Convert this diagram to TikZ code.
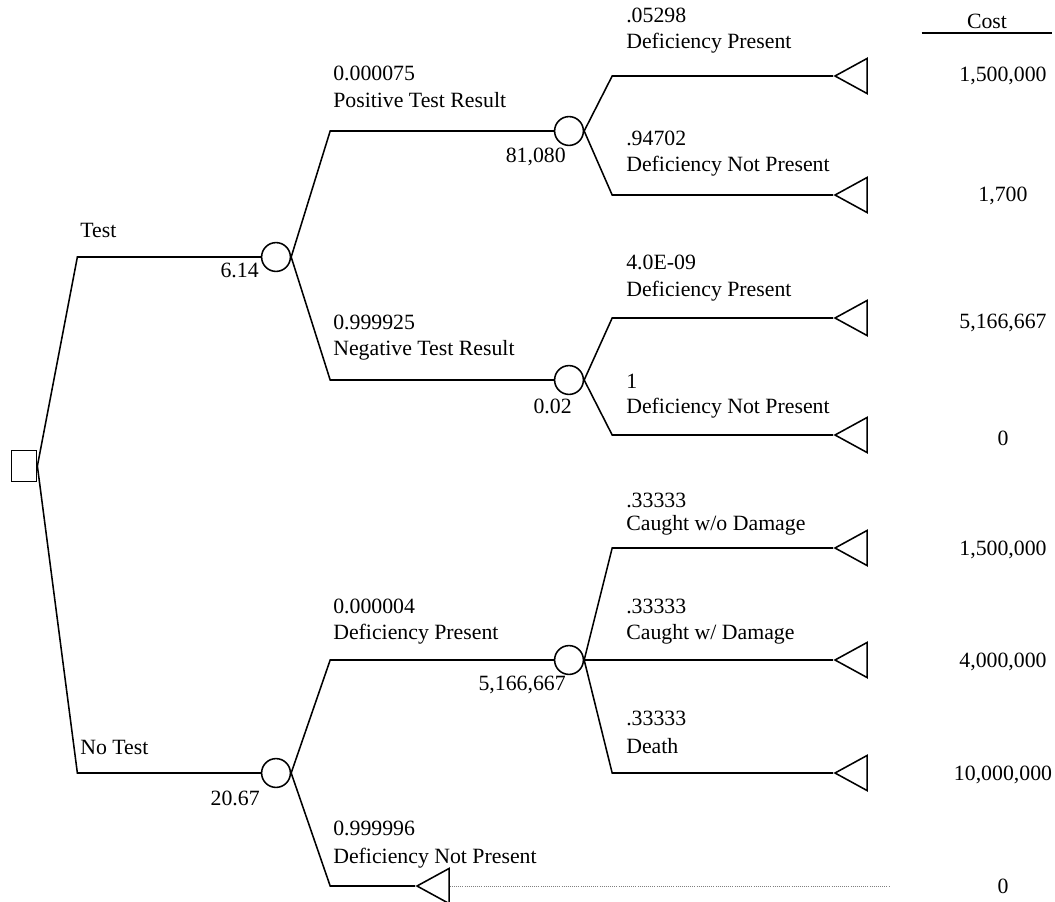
\documentclass[tikz,border=0pt]{standalone}
\usepackage{fontspec}
\setmainfont{Liberation Serif}
\usetikzlibrary{shapes.geometric, positioning}

\begin{document}
\begin{tikzpicture}[x=0.025cm, y=-0.025cm,
  decision/.style={draw, rectangle, line width=1.1pt, minimum width=0.63cm, minimum height=0.77cm, inner sep=0pt},
  chance/.style={draw, circle, line width=1.1pt, minimum size=0.72cm, inner sep=0pt},
  payoff/.style={draw, isosceles triangle, shape border rotate=180,
                 isosceles triangle stretches, line width=1.1pt,
                 minimum width=0.875cm, minimum height=0.8cm, inner sep=0pt, anchor=apex},
  lbl/.style={anchor=west, inner sep=0pt, font=\fontsize{15.5}{18}\selectfont},
  val/.style={anchor=east, inner sep=0pt, font=\fontsize{15.5}{18}\selectfont},
  cost/.style={inner sep=0pt, font=\fontsize{15.5}{18}\selectfont},
  br/.style={line width=1.1pt}
]
  \useasboundingbox (0,0) rectangle (1055,902);

  % decision and chance nodes
  \node[decision] (root) at (24,466) {};
  \node[chance] (test) at (276,257) {};
  \node[chance] (notest) at (276,773) {};
  \node[chance] (pos) at (569,131) {};
  \node[chance] (neg) at (569,380) {};
  \node[chance] (defp) at (569,660) {};

  % end nodes
  \node[payoff] (t1) at (833,76) {};
  \node[payoff] (t2) at (833,195) {};
  \node[payoff] (t3) at (833,318) {};
  \node[payoff] (t4) at (833,435) {};
  \node[payoff] (t5) at (833,548) {};
  \node[payoff] (t6) at (833,660) {};
  \node[payoff] (t7) at (833,773) {};
  \node[payoff] (t8) at (415,886) {};
  \coordinate (dotend) at (890,886);

  % costs
  \node[cost, minimum width=3.25cm, inner ysep=3pt] (hd) at (987,21) {Cost};
  \node[cost] (c1) at (1003,76) {1,500,000};
  \node[cost] (c2) at (1003,196) {1,700};
  \node[cost] (c3) at (1003,323) {5,166,667};
  \node[cost] (c4) at (1003,438) {0};
  \node[cost] (c5) at (1003,550) {1,500,000};
  \node[cost] (c6) at (1003,662) {4,000,000};
  \node[cost] (c7) at (1003,775) {10,000,000};
  \node[cost] (c8) at (1003,886) {0};
  \draw[line width=1.2pt] (hd.south west) -- (hd.south east);

  % branches
  \draw[br] (root.east) -- ++(40,-209) -- (test);
  \draw[br] (root.east) -- ++(40,307) -- (notest);
  \draw[br] (test.east) -- ++(39,-126) -- (pos);
  \draw[br] (test.east) -- ++(39,123) -- (neg);
  \draw[br] (pos.east) -- ++(28,-55) -- (t1);
  \draw[br] (pos.east) -- ++(28,64) -- (t2);
  \draw[br] (neg.east) -- ++(28,-62) -- (t3);
  \draw[br] (neg.east) -- ++(28,55) -- (t4);
  \draw[br] (notest.east) -- ++(39,-113) -- (defp);
  \draw[br] (notest.east) -- ++(39,113) -- (t8);
  \draw[br] (defp.east) -- ++(28,-112) -- (t5);
  \draw[br] (defp) -- (t6);
  \draw[br] (defp.east) -- ++(28,113) -- (t7);
  \draw[densely dotted, gray, line width=0.5pt] (t8.east) -- (dotend);

  % labels
  \node[lbl] (ltest) at (80,230) {Test};
  \node[lbl] (lnotest) at (80,747) {No Test};
  \node[val] (vtest) at (259,270) {6.14};
  \node[val] (vnotest) at (260,798) {20.67};
  \node[lbl] (ppos) at (333,73) {0.000075};
  \node[lbl] (lpos) at (333,100) {Positive Test Result};
  \node[val] (vpos) at (566,157) {81,080};
  \node[lbl] (pneg) at (333,322) {0.999925};
  \node[lbl] (lneg) at (333,350) {Negative Test Result};
  \node[val] (vneg) at (572,406) {0.02};
  \node[lbl] (p1) at (626,15) {.05298};
  \node[lbl] (l1) at (626,43) {Deficiency Present};
  \node[lbl] (p2) at (626,138) {.94702};
  \node[lbl] (l2) at (626,166) {Deficiency Not Present};
  \node[lbl] (p3) at (626,262) {4.0E-09};
  \node[lbl] (l3) at (626,291) {Deficiency Present};
  \node[lbl] (p4) at (626,381) {1};
  \node[lbl] (l4) at (626,408) {Deficiency Not Present};
  \node[lbl] (pdefp) at (333,606) {0.000004};
  \node[lbl] (ldefp) at (333,634) {Deficiency Present};
  \node[val] (vdefp) at (566,685) {5,166,667};
  \node[lbl] (p5) at (626,500) {.33333};
  \node[lbl] (l5) at (626,525) {Caught w/o Damage};
  \node[lbl] (p6) at (626,606) {.33333};
  \node[lbl] (l6) at (626,634) {Caught w/ Damage};
  \node[lbl] (p7) at (626,718) {.33333};
  \node[lbl] (l7) at (626,746) {Death};
  \node[lbl] (p8) at (333,828) {0.999996};
  \node[lbl] (l8) at (333,858) {Deficiency Not Present};
\end{tikzpicture}
\end{document}
